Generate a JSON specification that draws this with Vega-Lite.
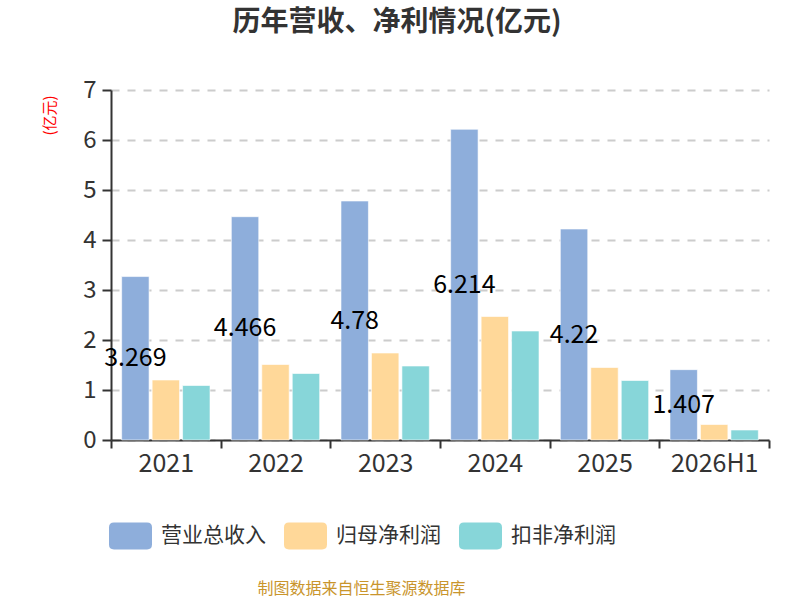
{
  "$schema": "https://vega.github.io/schema/vega-lite/v6.json",
  "width": 658,
  "height": 350,
  "autosize": {"type": "none"},
  "padding": {"left": 111, "top": 90, "right": 31, "bottom": 160},
  "background": "#ffffff",
  "config": {
    "font": "Noto Sans CJK SC",
    "view": {"stroke": null}
  },
  "title": {
    "text": "历年营收、净利情况(亿元)",
    "fontSize": 28,
    "fontWeight": "bold",
    "color": "#333333",
    "anchor": "middle",
    "frame": "group",
    "dx": -43,
    "offset": 41
  },
  "data": {
    "values": [
      {"year": "2021", "series": "营业总收入", "value": 3.269},
      {"year": "2021", "series": "归母净利润", "value": 1.2},
      {"year": "2021", "series": "扣非净利润", "value": 1.09},
      {"year": "2022", "series": "营业总收入", "value": 4.466},
      {"year": "2022", "series": "归母净利润", "value": 1.51},
      {"year": "2022", "series": "扣非净利润", "value": 1.33},
      {"year": "2023", "series": "营业总收入", "value": 4.78},
      {"year": "2023", "series": "归母净利润", "value": 1.74},
      {"year": "2023", "series": "扣非净利润", "value": 1.48},
      {"year": "2024", "series": "营业总收入", "value": 6.214},
      {"year": "2024", "series": "归母净利润", "value": 2.47},
      {"year": "2024", "series": "扣非净利润", "value": 2.18},
      {"year": "2025", "series": "营业总收入", "value": 4.22},
      {"year": "2025", "series": "归母净利润", "value": 1.45},
      {"year": "2025", "series": "扣非净利润", "value": 1.19},
      {"year": "2026H1", "series": "营业总收入", "value": 1.407},
      {"year": "2026H1", "series": "归母净利润", "value": 0.31},
      {"year": "2026H1", "series": "扣非净利润", "value": 0.2}
    ]
  },
  "encoding": {
    "x": {
      "field": "year",
      "type": "nominal",
      "sort": null,
      "scale": {"paddingInner": 0, "paddingOuter": 0},
      "axis": {
        "title": "制图数据来自恒生聚源数据库",
        "titleFontSize": 16,
        "titleFontWeight": "normal",
        "titleColor": "#c9952c",
        "titleX": 250,
        "titleY": 148,
        "titleAlign": "center",
        "titleBaseline": "middle",
        "labelFontSize": 25,
        "labelColor": "#333333",
        "labelAngle": 0,
        "labelPadding": 3,
        "domainColor": "#333333",
        "domainWidth": 2,
        "tickColor": "#333333",
        "tickWidth": 2,
        "tickSize": 8,
        "tickBand": "extent",
        "grid": false
      }
    },
    "xOffset": {
      "field": "series",
      "type": "nominal",
      "scale": {
        "domain": ["营业总收入", "归母净利润", "扣非净利润"],
        "paddingInner": 0.1,
        "paddingOuter": 0.35
      }
    }
  },
  "layer": [
    {
      "mark": {"type": "bar", "stroke": "#ffffff", "strokeWidth": 1, "strokeOpacity": 0.6},
      "encoding": {
        "y": {
          "field": "value",
          "type": "quantitative",
          "scale": {"domain": [0, 7], "nice": false},
          "axis": {
            "values": [0, 1, 2, 3, 4, 5, 6, 7],
            "title": "(亿元)",
            "titleColor": "#ff0000",
            "titleFontSize": 15,
            "titleFontWeight": "normal",
            "titleAngle": -90,
            "titleX": -62,
            "titleY": 25,
            "titleAlign": "center",
            "titleBaseline": "middle",
            "labelFontSize": 24,
            "labelColor": "#333333",
            "labelPadding": 6,
            "domainColor": "#333333",
            "domainWidth": 2,
            "tickColor": "#333333",
            "tickWidth": 2,
            "tickSize": 9,
            "grid": true,
            "gridColor": "#cccccc",
            "gridWidth": 2,
            "gridDash": [8, 8]
          }
        },
        "color": {
          "field": "series",
          "type": "nominal",
          "scale": {
            "domain": ["营业总收入", "归母净利润", "扣非净利润"],
            "range": ["#8eaedb", "#ffd899", "#87d6d9"]
          },
          "legend": {
            "title": null,
            "orient": "none",
            "direction": "horizontal",
            "legendX": -2,
            "legendY": 424,
            "symbolType": "M-0.77,-0.628H0.77Q1,-0.628 1,-0.4V0.4Q1,0.628 0.77,0.628H-0.77Q-1,0.628 -1,0.4V-0.4Q-1,-0.628 -0.77,-0.628Z",
            "symbolSize": 1849,
            "symbolStrokeWidth": 0,
            "symbolOpacity": 1,
            "labelFontSize": 21,
            "labelColor": "#333333",
            "labelOffset": 9,
            "columnPadding": 18
          }
        }
      }
    },
    {
      "transform": [{"filter": "datum.series == '营业总收入'"}],
      "mark": {"type": "text", "fontSize": 25, "color": "#000000", "align": "center", "baseline": "middle"},
      "encoding": {
        "y": {
          "field": "value",
          "type": "quantitative",
          "scale": {"domain": [0, 14], "nice": false},
          "axis": null
        },
        "text": {"field": "value", "type": "quantitative"}
      }
    }
  ],
  "resolve": {"scale": {"y": "independent"}}
}
